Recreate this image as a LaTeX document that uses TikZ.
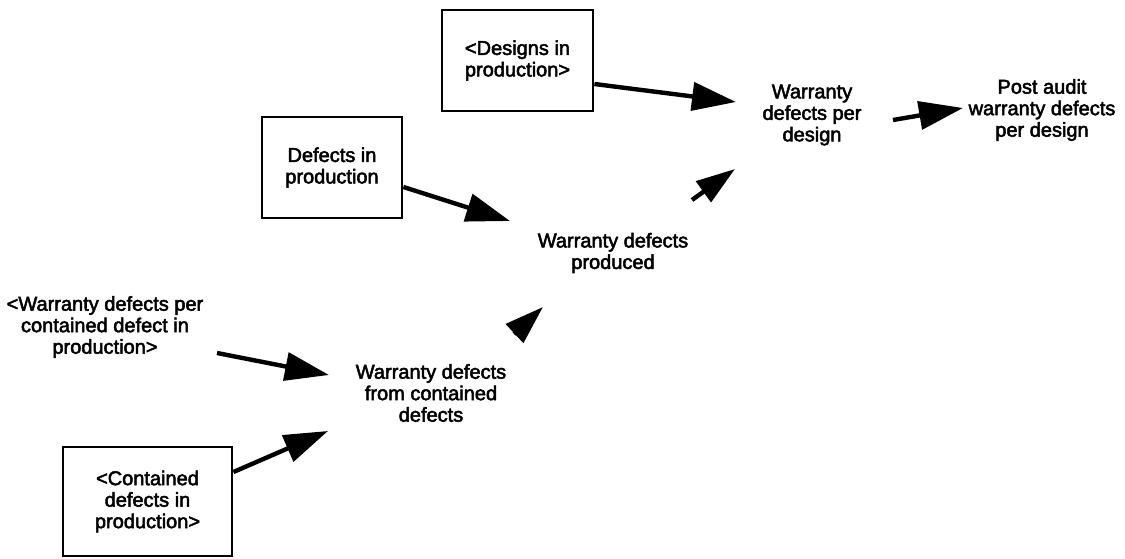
\documentclass[tikz,border=0pt]{standalone}
\usepackage{fontspec}
\setmainfont{Liberation Sans}[FakeBold=2.5]
\usetikzlibrary{arrows.meta,calc}
\begin{document}
\begin{tikzpicture}[x=1pt,y=1pt,
  lbl/.style={align=center,inner sep=0pt,font=\fontsize{20}{21.5}\selectfont},
  stockbox/.style={lbl,draw,line width=2.8pt},
  flow/.style={line width=4.4pt,-{Triangle[length=44pt,width=28pt]}},
  shortflow/.style={line width=4.4pt,-{Triangle[length=39pt,width=25pt]}}]
\useasboundingbox (0,0) rectangle (1125,558);

% stocks (boxed variables)
\node[stockbox,minimum width=151,minimum height=101] (designs) at (517.5,497.5) {<Designs in\\production>};
\node[stockbox,minimum width=140,minimum height=101] (defects) at (332,390.5) {Defects in\\production};
\node[stockbox,minimum width=169,minimum height=109] (contained) at (147.5,56.5) {<Contained\\defects in\\production>};

% auxiliary variables
\node[lbl] (wdpd) at (812,443) {Warranty\\defects per\\design};
\node[lbl] (post) at (1042,448) {Post audit\\warranty defects\\per design};
\node[lbl] (wdprod) at (613,305) {Warranty defects\\produced};
\node[lbl] (wdpcd) at (105,231) {<Warranty defects per\\contained defect in\\production>};
\node[lbl] (wdfrom) at (431,165) {Warranty defects\\from contained\\defects};

% causal links
\draw[flow] ($(designs.east)+(0,-23.5)$) -- ($(wdpd.center)+(-76,13)$);
\draw[flow] ($(defects.east)+(0,-19.5)$) -- ($(wdprod.center)+(-103,32)$);
\draw[shortflow] ($(wdprod.center)+(79,53)$) -- ($(wdpd.center)+(-77,-54)$);
\draw[flow] ($(wdpd.center)+(81,-5)$) -- ($(post.center)+(-79,2)$);
\draw[shortflow] ($(wdfrom.center)+(83,59)$) -- ($(wdprod.center)+(-70,-54)$);
\draw[flow] ($(wdpcd.center)+(112,-26)$) -- ($(wdfrom.center)+(-102,18)$);
\draw[flow] ($(contained.east)+(0,29.5)$) -- ($(wdfrom.center)+(-103,-38)$);
\end{tikzpicture}
\end{document}
